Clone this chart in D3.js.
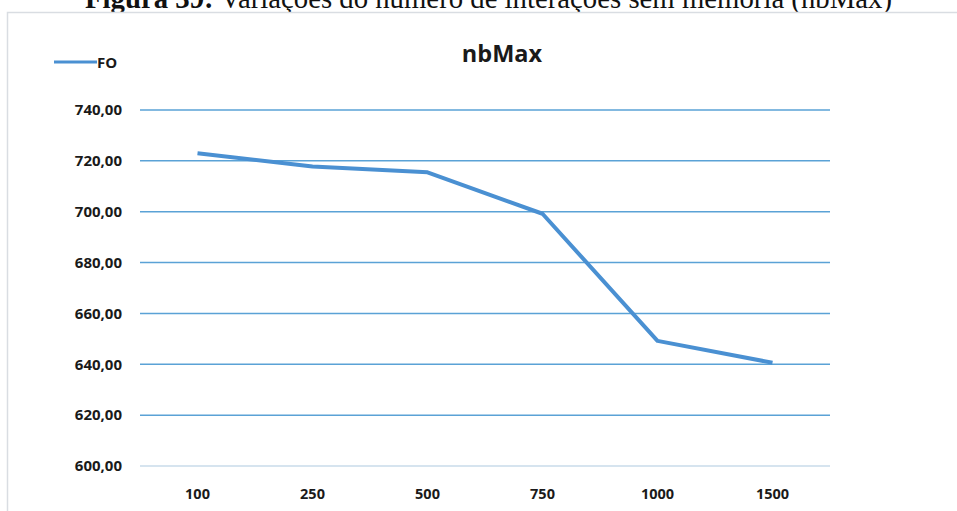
<!DOCTYPE html>
<html><head><meta charset="utf-8">
<script src="https://cdn.jsdelivr.net/npm/d3@7"></script>
<style>
html,body{margin:0;padding:0;background:#fff;}
svg{display:block;}
</style></head>
<body>
<script>
const categories = ["100","250","500","750","1000","1500"];
const foValues = [723.0, 717.8, 715.5, 699.2, 649.2, 640.6];
const yTicks = [600,620,640,660,680,700,720,740];
const seriesName = "FO";
const chartTitle = "nbMax";
const caption = ["Figura 39:", " Variações do número de interações sem memória (nbMax)"];

const W = 957, H = 511;
const svg = d3.select("body").append("svg").attr("width", W).attr("height", H);

// caption (cut off at top, as in the source)
const cap = svg.append("text").attr("x", 85).attr("y", 8)
  .attr("textLength", 807).attr("lengthAdjust","spacingAndGlyphs")
  .style("font-family","'Liberation Serif','Times New Roman',serif")
  .style("font-size","28.5px").attr("fill","#111");
cap.append("tspan").style("font-weight","bold").text(caption[0]);
cap.append("tspan").text(caption[1]);

// chart frame
svg.append("rect").attr("x",7.5).attr("y",12.5).attr("width",W+10).attr("height",H)
  .attr("fill","#fff").attr("stroke","#d9dde2").attr("stroke-width",1.5);

const x = d3.scaleBand().domain(categories).range([140, 830]);
const y = d3.scaleLinear().domain([600, 740]).range([466, 110]);

const font = "'Open Sans',sans-serif";

// gridlines
svg.append("g").selectAll("line").data(yTicks).join("line")
  .attr("x1", 140).attr("x2", 830)
  .attr("y1", d => y(d)).attr("y2", d => y(d))
  .attr("stroke", d => d === 600 ? "#c9dbea" : "#5aa2d6")
  .attr("stroke-width", 1.5);

// y axis labels
const yAxis = d3.axisLeft(y).tickValues(yTicks).tickSize(0).tickPadding(0)
  .tickFormat(d => d3.format(".2f")(d).replace(".", ","));
const gy = svg.append("g").attr("transform","translate(122,0)").call(yAxis);
gy.select(".domain").remove();
gy.selectAll("text").style("font-family",font).style("font-size","15px")
  .style("font-weight","bold").attr("fill","#1a1a1a");

// x axis labels
const xAxis = d3.axisBottom(x).tickSize(0).tickPadding(0);
const gx = svg.append("g").attr("transform","translate(0,489)").call(xAxis);
gx.select(".domain").remove();
gx.selectAll("text").style("font-family",font).style("font-size","14.5px")
  .style("font-weight","bold").attr("fill","#1a1a1a");

// line
const line = d3.line().x((d,i) => x(categories[i]) + x.bandwidth()/2).y(d => y(d));
svg.append("path").datum(foValues).attr("d", line)
  .attr("fill","none").attr("stroke","#4a90d2").attr("stroke-width",4)
  .attr("stroke-linejoin","round");

// title
svg.append("text").attr("x",502).attr("y",62).attr("text-anchor","middle")
  .style("font-family","'Open Sans',sans-serif").style("font-size","23.5px")
  .style("font-weight","bold").attr("fill","#1a1a1a").text(chartTitle);

// legend
svg.append("line").attr("x1",54).attr("x2",97).attr("y1",62).attr("y2",62)
  .attr("stroke","#4a90d2").attr("stroke-width",3);
svg.append("text").attr("x",97).attr("y",67.5)
  .style("font-family",font).style("font-size","15px").style("font-weight","bold")
  .attr("fill","#1a1a1a").text(seriesName);
</script>
</body></html>
